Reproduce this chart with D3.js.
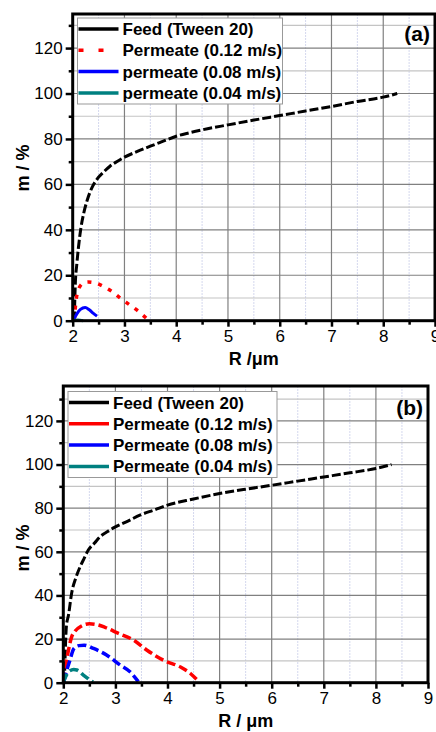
<!DOCTYPE html>
<html>
<head>
<meta charset="utf-8">
<script src="https://cdn.jsdelivr.net/npm/d3@7"></script>
<style>
  body { margin: 0; background: #fff; }
  svg { display: block; font-family: "Liberation Sans", Arial, sans-serif; }
  .tick text { font-size: 17px; fill: #000; }
  .axis-label { font-size: 18px; font-weight: bold; }
  .legend text { font-size: 17px; font-weight: bold; }
</style>
</head>
<body>
<svg width="436" height="732"></svg>
<script>
// values: [R in um, m in %]
const feedA = [[2.03,0],[2.05,16],[2.08,25],[2.11,32],[2.16,41],[2.22,48],[2.28,53],[2.37,58.5],[2.46,62],[2.6,65.5],[2.72,68],[2.85,70],[3.0,72],[3.25,74.5],[3.5,76.8],[3.75,79],[4.0,81.2],[4.25,82.7],[4.5,84],[5.0,86.2],[5.5,88.3],[6.0,90.3],[6.5,92.3],[7.0,94.3],[7.5,96.5],[8.0,98.4],[8.27,100]];
const perm12A = [[2.03,0],[2.06,8],[2.1,13],[2.2,16.5],[2.3,17],[2.45,16.5],[2.6,15],[2.75,13],[2.9,10.3],[3.1,7],[3.25,4.5],[3.45,0.5]];
const perm08A = [[2.02,0.5],[2.08,3],[2.15,5],[2.24,5.8],[2.32,4.8],[2.4,3.2],[2.47,2]];
const perm04A = [[2.0,0],[2.1,0.3],[2.2,0]];

const feedB = [[2.02,0],[2.06,26],[2.1,31],[2.16,41],[2.24,48],[2.32,53],[2.4,57],[2.48,60.8],[2.6,64],[2.7,66.8],[2.85,69.3],[3.0,71.4],[3.25,74.2],[3.47,76.8],[3.75,79.2],[4.0,81.4],[4.5,84.2],[5.0,86.7],[5.5,88.7],[6.0,90.5],[6.5,92.4],[7.0,94.3],[7.5,96.2],[8.0,98.2],[8.3,100]];
const perm12B = [[2.01,0.5],[2.05,8],[2.1,15],[2.16,21],[2.22,23.5],[2.35,26],[2.5,27],[2.65,26.6],[2.8,25.4],[3.05,22.7],[3.35,19.5],[3.6,15],[3.95,10],[4.25,7.2],[4.45,4],[4.6,0.5]];
const perm08B = [[2.01,0.5],[2.07,6],[2.13,10.5],[2.2,15.5],[2.3,17],[2.4,17.2],[2.58,15.7],[2.83,12.7],[3.09,8.1],[3.28,5],[3.44,0.5]];
const perm04B = [[2.0,0.3],[2.05,3],[2.1,5],[2.2,6],[2.26,5.8],[2.38,3.6],[2.48,1.8],[2.57,0.3]];

const xTicks = [2, 3, 4, 5, 6, 7, 8, 9];
const yTicks = [0, 20, 40, 60, 80, 100, 120];
const labelsA = ['Feed (Tween 20)', 'Permeate (0.12 m/s)', 'permeate (0.08 m/s)', 'permeate (0.04 m/s)'];
const labelsB = ['Feed (Tween 20)', 'Permeate (0.12 m/s)', 'Permeate (0.08 m/s)', 'Permeate (0.04 m/s)'];
const colors = ['#000000', '#ff0000', '#0000ff', '#008080'];

const svg = d3.select('svg');

function drawPanel(p) {
    const x = d3.scaleLinear().domain([2, 9]).range([p.left, p.right]);
    const y = d3.scaleLinear().domain([0, p.yMax]).range([p.bottom, p.top]);
    const g = svg.append('g');

    // grid
    const minorX = d3.range(2.5, 9, 1);
    const minorY = d3.range(10, p.yMax, 20);
    g.selectAll('.gvx').data(minorX).enter().append('line')
        .attr('x1', d => x(d)).attr('x2', d => x(d))
        .attr('y1', p.top).attr('y2', p.bottom)
        .attr('stroke', '#d4d8ee').attr('stroke-width', 1).attr('stroke-dasharray', '2,1');
    g.selectAll('.gmy').data(minorY).enter().append('line')
        .attr('x1', p.left).attr('x2', p.right)
        .attr('y1', d => y(d)).attr('y2', d => y(d))
        .attr('stroke', '#c4c4c4').attr('stroke-width', 1.2);
    g.selectAll('.gx').data(xTicks.slice(1, -1)).enter().append('line')
        .attr('x1', d => x(d)).attr('x2', d => x(d))
        .attr('y1', p.top).attr('y2', p.bottom)
        .attr('stroke', '#808080').attr('stroke-width', 1.2);
    g.selectAll('.gy').data(yTicks.slice(1)).enter().append('line')
        .attr('x1', p.left).attr('x2', p.right)
        .attr('y1', d => y(d)).attr('y2', d => y(d))
        .attr('stroke', '#808080').attr('stroke-width', 1.2);

    // series
    const line = d3.line().x(d => x(d[0])).y(d => y(d[1])).curve(d3.curveMonotoneX);
    p.series.forEach((s, i) => {
        g.append('path').datum(s.data)
            .attr('d', line)
            .attr('fill', 'none')
            .attr('stroke', colors[i])
            .attr('stroke-width', s.width)
            .attr('stroke-dasharray', s.dash);
    });

    // frame
    g.append('rect')
        .attr('x', p.left).attr('y', p.top)
        .attr('width', p.right - p.left).attr('height', p.bottom - p.top)
        .attr('fill', 'none').attr('stroke', '#000').attr('stroke-width', 3);

    // axes
    const yAxisG = g.append('g').attr('transform', `translate(${p.left},0)`)
        .call(d3.axisLeft(y).tickValues(yTicks).tickSize(7).tickPadding(3));
    const yMinorG = g.append('g').attr('transform', `translate(${p.left},0)`)
        .call(d3.axisLeft(y).tickValues(minorY).tickSize(4).tickFormat(''));
    const xAxisG = g.append('g').attr('transform', `translate(0,${p.bottom})`)
        .call(d3.axisBottom(x).tickValues(xTicks).tickFormat(d3.format('d')).tickSize(6).tickPadding(3));
    const xMinorG = g.append('g').attr('transform', `translate(0,${p.bottom})`)
        .call(d3.axisBottom(x).tickValues(minorX).tickSize(4).tickFormat(''));
    [yAxisG, yMinorG, xAxisG, xMinorG].forEach(a => {
        a.select('.domain').remove();
        a.selectAll('.tick line').attr('stroke-width', 2.5);
        a.selectAll('text').attr('font-family', null).attr('font-size', null);
    });
    xAxisG.selectAll('text').attr('font-size', '18px');

    // axis labels
    svg.append('text')
        .attr('class', 'axis-label')
        .attr('transform', `translate(29,${p.yLabelY}) rotate(-90)`)
        .attr('text-anchor', 'middle')
        .text('m / %');
    svg.append('text')
        .attr('class', 'axis-label')
        .attr('x', (p.left + p.right) / 2)
        .attr('y', p.xLabelY)
        .attr('text-anchor', 'middle')
        .text(p.xLabel);

    // panel tag
    svg.append('text')
        .attr('x', p.right - 5).attr('y', p.tagY)
        .attr('text-anchor', 'end')
        .attr('font-size', '21px').attr('font-weight', 'bold')
        .text(p.tag);

    // legend
    const lg = svg.append('g').attr('class', 'legend');
    lg.append('rect')
        .attr('x', p.legX).attr('y', p.legY)
        .attr('width', p.legW).attr('height', 86)
        .attr('fill', '#fff').attr('stroke', '#999').attr('stroke-width', 1);
    p.labels.forEach((t, i) => {
        const cy = p.legY + 11 + i * 21.3;
        lg.append('line')
            .attr('x1', p.legX + 1).attr('x2', p.legX + 41)
            .attr('y1', cy).attr('y2', cy)
            .attr('stroke', colors[i]).attr('stroke-width', 3.5)
            .attr('stroke-dasharray', p.legDash[i]);
        lg.append('text')
            .attr('x', p.legX + 45).attr('y', cy + 6)
            .text(t);
    });
}

drawPanel({
    left: 72.7, right: 435, top: 14, bottom: 320.7, yMax: 135,
    xLabel: 'R /\u03bcm', xLabelY: 365, yLabelY: 168,
    tag: '(a)', tagY: 41,
    legX: 77.5, legY: 18, legW: 205, labels: labelsA,
    legDash: [null, '5,15', null, null],
    series: [
        { data: feedA, width: 3, dash: '9,3' },
        { data: perm12A, width: 3.5, dash: '4,7' },
        { data: perm08A, width: 3, dash: null },
        { data: perm04A, width: 3, dash: null }
    ]
});

drawPanel({
    left: 63.3, right: 428, top: 386, bottom: 682.7, yMax: 136,
    xLabel: 'R / \u03bcm', xLabelY: 727, yLabelY: 548,
    tag: '(b)', tagY: 415,
    legX: 68, legY: 391.5, legW: 209, labels: labelsB,
    legDash: [null, null, null, null],
    series: [
        { data: feedB, width: 3, dash: '9,3' },
        { data: perm12B, width: 3.5, dash: '9,4' },
        { data: perm08B, width: 3.5, dash: '9,4' },
        { data: perm04B, width: 3.5, dash: '9,4' }
    ]
});
</script>
</body>
</html>
